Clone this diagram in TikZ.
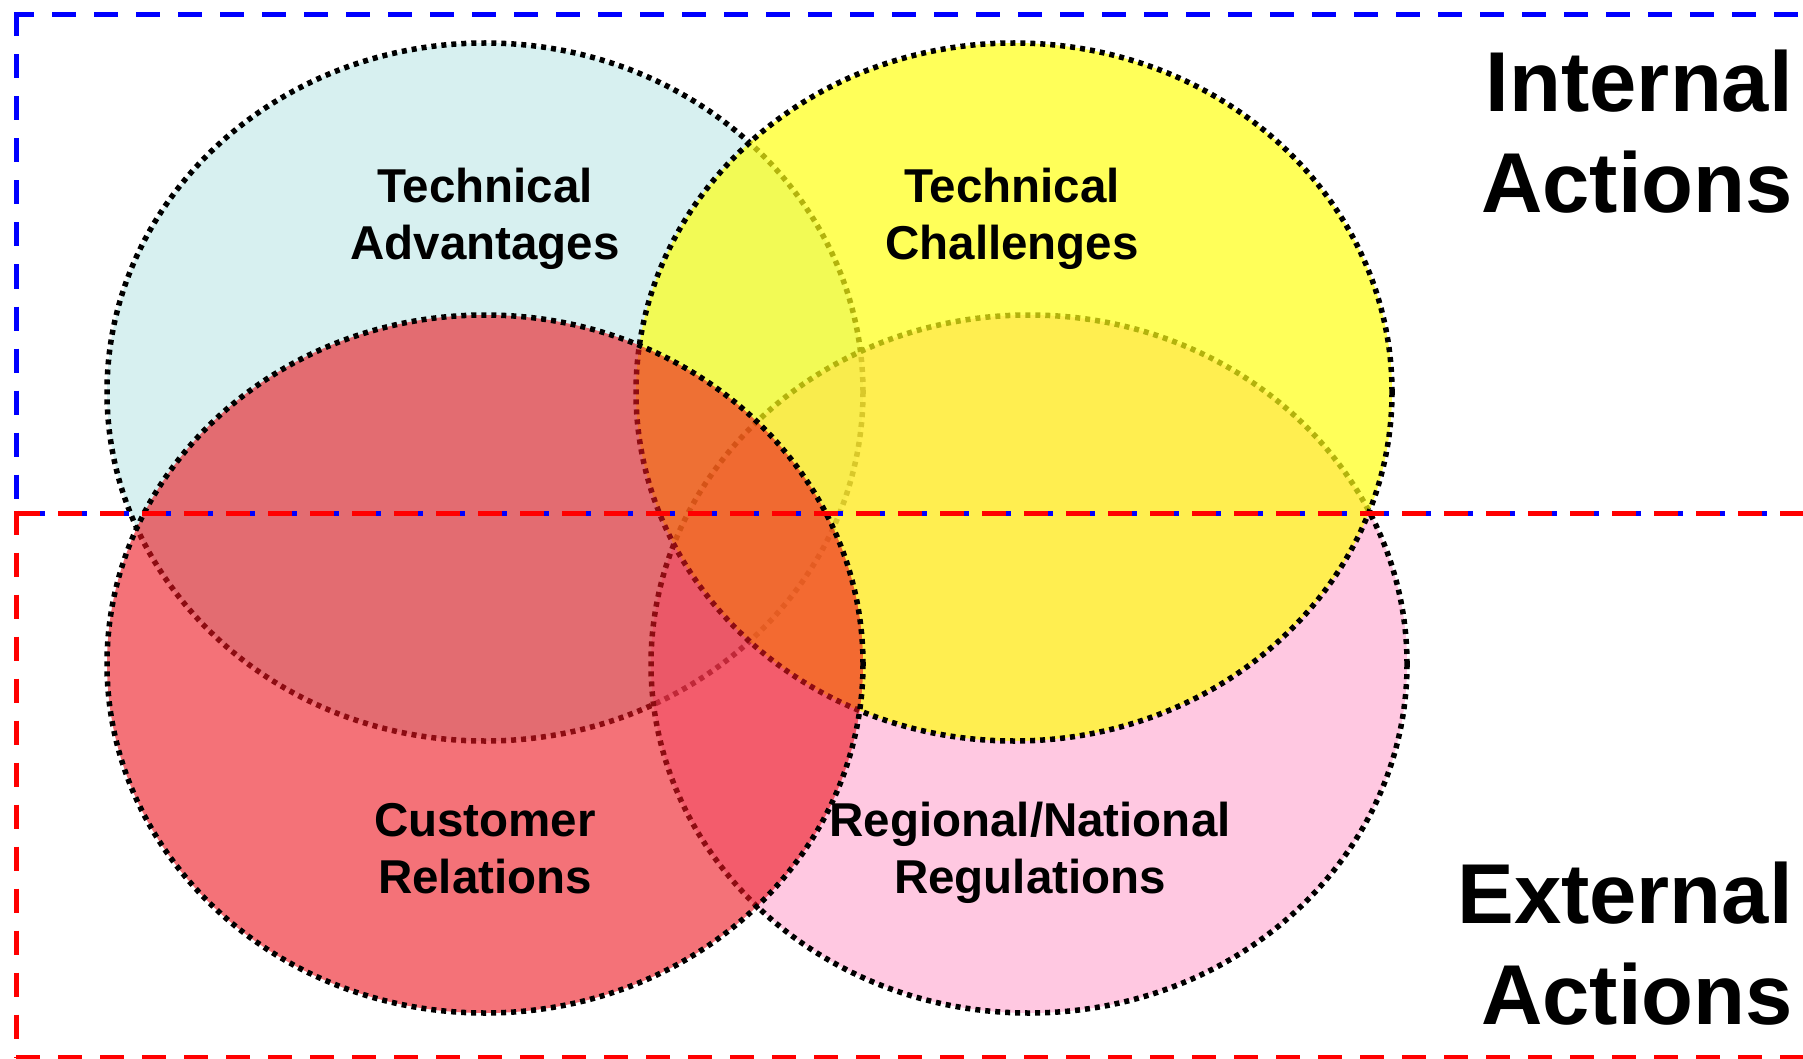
\documentclass[tikz,border=0pt]{standalone}
\usepackage{fontspec}
\setmainfont{Liberation Sans}
\usetikzlibrary{shapes.geometric}
\definecolor{tacol}{RGB}{175,225,225}
\definecolor{tccol}{RGB}{255,255,19}
\definecolor{crcol}{RGB}{236,20,30}
\definecolor{rrcol}{RGB}{255,145,195}
\begin{document}
\begin{tikzpicture}[x=1pt,y=-1pt,
  venn/.style={ellipse, draw=black, line width=5.5pt, dash pattern=on 5pt off 5pt,
    minimum width=756pt, minimum height=698pt, inner sep=0pt, outer sep=0pt},
  lab/.style={inner sep=0pt, anchor=base, font=\bfseries\fontsize{47.5}{57}\selectfont},
  big/.style={inner sep=0pt, anchor=base east, font=\bfseries\fontsize{85}{101}\selectfont},
  bluedash/.style={draw=blue, line width=5pt, dash pattern=on 24pt off 18pt},
  reddash/.style={draw=red, line width=5pt, dash pattern=on 24pt off 18pt}]
\useasboundingbox (0,0) rectangle (1803,1059);
% Venn ellipses (drawing order matters for overlap look)
\node[venn, fill=tacol, fill opacity=0.5] (ta) at (485,392) {};
\node[venn, fill=rrcol, fill opacity=0.5] (rr) at (1029,664) {};
\node[venn, fill=tccol, fill opacity=0.7] (tc) at (1014,392) {};
\node[venn, fill=crcol, fill opacity=0.6] (cr) at (485,664) {};
% Internal (blue) frame
\draw[bluedash, dash phase=6pt] (16,15) -- (1820,15);
\draw[bluedash] (16,12.5) -- (16,513);
\draw[bluedash] (21,513) -- (1820,513);
% External (red) frame
\draw[reddash] (16,513) -- (1820,513);
\draw[reddash] (16,510.5) -- (16,1057);
\draw[reddash] (16,1057) -- (1820,1057);
% Labels
\node[lab] (talab) at (485,203) {\begin{tabular}[t]{@{}c@{}}Technical\\Advantages\end{tabular}};
\node[lab] (tclab) at (1012,203) {\begin{tabular}[t]{@{}c@{}}Technical\\Challenges\end{tabular}};
\node[lab] (crlab) at (485,836) {\begin{tabular}[t]{@{}c@{}}Customer\\Relations\end{tabular}};
\node[lab] (rrlab) at (1030,836) {\begin{tabular}[t]{@{}c@{}}Regional/National\\Regulations\end{tabular}};
\node[big] (intl) at (1793,112) {\begin{tabular}[t]{@{}r@{}}Internal\\Actions\end{tabular}};
\node[big] (extl) at (1793,923) {\begin{tabular}[t]{@{}r@{}}External\\Actions\end{tabular}};
\end{tikzpicture}
\end{document}
